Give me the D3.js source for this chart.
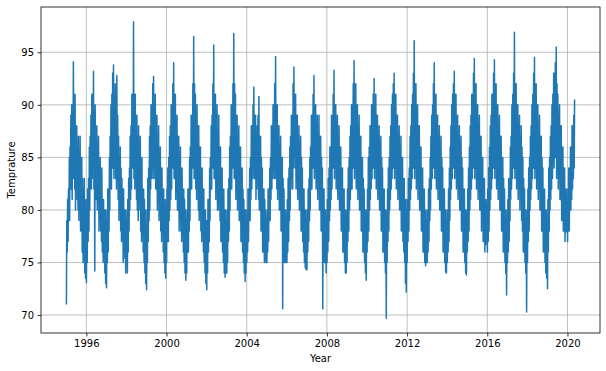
<!DOCTYPE html>
<html><head><meta charset="utf-8">
<script src="https://cdn.jsdelivr.net/npm/d3@7"></script>
<style>body{margin:0;background:#fff}svg{display:block}text{font-family:"DejaVu Sans",sans-serif}</style>
</head><body><svg id="c" width="606" height="371"></svg>
<script>
const startYear = 1995;
// half-monthly high readings (24 per row = one year), 1995 .. early May 2020
const highs = [
 79,81, 82,85, 86,89, 90,88, 94.1,90, 91,87, 88,86, 87,85, 87,84, 85,83, 82,83, 80,81,
 79,82, 83,86, 87,89, 91,89, 93.2,89, 90,87, 88,86, 87,84, 85,82, 84,81, 81,80, 80,79,
 80,82, 82,85, 87,90, 91,93, 93.8,91, 92,90, 92.8,89, 87,85, 86,84, 83,82, 82,80, 80,79,
 80,81, 83,84, 87,88, 91,90, 97.9,91, 91,88, 89,87, 88,85, 87,84, 85,82, 82,81, 80,78,
 80,83, 84,87, 88,90, 90,92, 92.7,90, 91,88, 89,86, 88,85, 86,84, 84,82, 82,80, 81,79,
 82,84, 85,87, 88,90, 90,92, 94,91, 91,88, 89,87, 87,85, 86,83, 84,82, 82,81, 80,79,
 80,82, 82,85, 86,89, 89,92, 96.5,92, 91,89, 90,88, 88,86, 86,84, 84,82, 82,80, 80,79,
 79,81, 81,84, 85,88, 89,92, 95.7,91, 91,89, 90,87, 89,86, 86,84, 84,82, 82,80, 80,79,
 80,82, 83,86, 87,90, 90,92, 96.8,92, 91,89, 89,87, 88,86, 86,84, 84,82, 81,80, 80,79,
 80,82, 82,84, 85,88, 88,90, 91.7,89, 89,87, 88,89, 90.8,87, 87,85, 84,82, 82,81, 80,79,
 80,82, 82,84, 85,88, 88,90, 90,92, 94.6,90, 90,88, 88,86, 87,85, 85,83, 82,80, 80,79,
 81,83, 84,86, 87,89, 89,92, 93.6,91, 91,89, 89,87, 88,86, 87,85, 84,82, 82,80, 80,79,
 80,82, 83,85, 86,89, 89,91, 92.8,90, 90,88, 89,87, 89,87, 87,85, 84,82, 82,80, 80,79,
 81,83, 84,86, 86,89, 89,91, 93.3,90, 90,88, 89,87, 88,86, 86,84, 84,82, 82,80, 80,79,
 82,84, 85,87, 88,90, 90,92, 94.2,92, 92,89, 90,88, 89,87, 87,85, 85,83, 82,80, 80,79,
 82,85, 86,88, 88,90, 90,91, 92.5,90, 91,89, 89,87, 88,86, 87,85, 84,82, 82,80, 80,79,
 82,84, 85,87, 88,90, 91,92, 93,91, 91,89, 89,87, 88,86, 87,85, 85,83, 83,81, 81,80,
 81,83, 84,87, 88,90, 91,93, 96.1,92, 92,89, 90,88, 88,86, 86,84, 84,82, 82,80, 80,79,
 80,82, 83,85, 87,89, 90,92, 94,91, 91,89, 89,87, 88,86, 87,85, 84,82, 82,80, 80,79,
 80,82, 84,86, 88,90, 91,92, 93.2,91, 91,89, 89,87, 88,86, 87,85, 84,82, 82,80, 80,79,
 82,84, 86,88, 89,91, 91,93, 94.4,92, 92,90, 90,88, 89,87, 87,85, 85,83, 83,81, 81,80,
 82,84, 86,88, 89,91, 91,93, 94.3,92, 92,90, 90,88, 89,87, 87,85, 85,83, 82,80, 80,79,
 81,83, 83,86, 87,90, 91,93, 96.9,92, 92,90, 90,88, 89,87, 88,86, 85,83, 82,80, 80,79,
 82,84, 85,87, 88,90, 91,93, 94.5,92, 92,90, 90,88, 89,87, 87,85, 84,82, 82,80, 80,79,
 81,84, 85,87, 88,90, 91,93, 93,94, 95.5,92, 91,89, 90,88, 88,86, 86,84, 84,82, 82,81,
 82,84, 84,86, 86,88, 88,89, 90.5
];
// half-monthly low readings, same layout
const lows = [
 71,76, 77,79, 79,82, 82,81, 84,83, 82,80, 82,81, 80,79, 80,78, 78,76, 75,76, 74,73.5,
 73.1,75, 77,78, 80,82, 82,83, 84,82, 74.2,81, 81,80, 81,78, 79,78, 77,76, 75,76, 74,73,
 72.6,75, 76,78, 80,82, 82,84, 84,83, 84,83, 82,83, 81,79, 80,78, 77,78, 75,76, 75.4,74,
 75,74, 76,78, 80,81, 82,84, 84,83, 82,83, 81,80, 79,81, 80,78, 77,78, 76,75, 74,73,
 72.4,75, 77,79, 80,82, 83,84, 83,85, 83,82, 82,80, 81,79, 80,78, 77,78, 76,75, 74,73.5,
 75,77, 77,79, 80,81, 82,84, 84,83, 83,81, 82,80, 80,78, 79,78, 77,78, 76,75, 74,73.3,
 74,76, 76,78, 79,82, 82,84, 84,83, 83,82, 81,82, 80,79, 80,78, 77,78, 76,75, 74,73,
 72.4,74, 76,77, 79,82, 82,84, 84,83, 83,81, 82,80, 80,81, 79,77, 77,76, 75,74, 73.6,74,
 74,75, 77,78, 80,82, 82,84, 84,83, 83,81, 82,80, 81,79, 79,77, 77,76, 75,74, 73.2,74,
 75,76, 77,79, 79,81, 82,83, 84,83, 83,81, 82,83, 81,80, 80,78, 78,76, 76,75, 75.4,75,
 75,76, 77,79, 79,81, 82,83, 84,83, 83,84, 82,81, 82,80, 80,78, 78,70.6, 77,75, 75,75,
 75,76, 77,79, 80,82, 83,82, 84,85, 84,82, 83,81, 82,80, 80,78, 78,77, 76,75, 74.5,74.3,
 74.3,76, 77,79, 80,82, 82,84, 84,83, 84,82, 83,81, 82,80, 80,78, 78,70.6, 76,75, 75,74,
 75,76, 77,79, 80,81, 82,84, 84,83, 84,82, 83,81, 82,80, 80,78, 78,76, 76,75, 74,74,
 75,77, 78,80, 81,82, 82,84, 84,83, 84,82, 83,81, 82,80, 80,78, 78,76, 76,75, 74,73.3,
 76,77, 78,80, 81,82, 83,84, 84,83, 84,82, 83,81, 82,80, 80,78, 78,76, 76,75, 74,69.7,
 75,77, 78,80, 81,82, 83,84, 84,83, 84,82, 83,81, 82,80, 80,78, 78,77, 76,75, 73,72.2,
 75,77, 78,80, 81,82, 83,84, 84,83, 84,82, 83,81, 82,80, 80,78, 78,76, 76,75, 74.7,75,
 75,76, 77,79, 80,82, 83,84, 84,83, 84,82, 83,81, 82,80, 80,78, 78,76, 76,75, 74.1,74,
 75,76, 77,79, 81,82, 83,84, 84,83, 84,82, 83,81, 82,80, 80,78, 78,76, 76,75, 74,73.8,
 76,77, 78,80, 81,82, 83,84, 84,83, 84,82, 83,81, 82,80, 80,78, 79,77, 77,76, 76.7,77,
 76,77, 78,80, 81,82, 83,84, 84,83, 84,82, 83,81, 82,80, 80,78, 78,76, 76,75, 74,71.9,
 75,76, 77,79, 81,82, 83,84, 84,83, 84,82, 83,81, 82,80, 81,79, 78,76, 76,75, 74,70.3,
 75,77, 78,80, 81,82, 83,84, 84,83, 84,82, 83,81, 82,80, 80,78, 78,76, 76,75, 74,73.5,
 72.5,76, 78,80, 81,82, 83,85, 84,85, 85,83, 84,82, 83,81, 81,79, 79,78, 78,77, 77.9,78,
 77,78, 78,80, 80,81, 82,83, 84
];
const yTicks = [70, 75, 80, 85, 90, 95];
const xTickYears = [1996, 2000, 2004, 2008, 2012, 2016, 2020];

const points = [];
lows.forEach((lo, k) => {
  const yr = startYear + Math.floor(k / 24), h = k % 24;
  const mo = Math.floor(h / 2), d0 = (h % 2) ? 16 : 1;
  points.push({date: new Date(yr, mo, d0 + 2), v: lo});
  points.push({date: new Date(yr, mo, d0 + 9), v: highs[k]});
});

const W = 606, H = 371;
const m = {left: 41, right: 6, top: 7, bottom: 38};
const svg = d3.select("#c");

const xExt = d3.extent(points, d => d.date);
const xPad = (xExt[1] - xExt[0]) * 0.05;
const x = d3.scaleTime()
  .domain([new Date(+xExt[0] - xPad), new Date(+xExt[1] + xPad)])
  .range([m.left, W - m.right]);
const yExt = d3.extent(points, d => d.v);
const yPad = (yExt[1] - yExt[0]) * 0.05;
const y = d3.scaleLinear()
  .domain([yExt[0] - yPad, yExt[1] + yPad])
  .range([H - m.bottom, m.top]);

const xTickDates = xTickYears.map(yv => new Date(yv, 0, 1));

// grid
const g = svg.append("g");
g.selectAll(".gx").data(xTickDates).join("line")
  .attr("x1", d => x(d)).attr("x2", d => x(d))
  .attr("y1", m.top).attr("y2", H - m.bottom)
  .attr("stroke", "#b0b0b0").attr("stroke-width", 0.8);
g.selectAll(".gy").data(yTicks).join("line")
  .attr("x1", m.left).attr("x2", W - m.right)
  .attr("y1", d => y(d)).attr("y2", d => y(d))
  .attr("stroke", "#b0b0b0").attr("stroke-width", 0.8);

// line
const line = d3.line().x(d => x(d.date)).y(d => y(d.v));
svg.append("path").datum(points)
  .attr("d", line).attr("fill", "none")
  .attr("stroke", "#1f77b4").attr("stroke-width", 1.5)
  .attr("stroke-linejoin", "round");

// axes
const xAxis = d3.axisBottom(x).tickValues(xTickDates).tickFormat(d3.timeFormat("%Y"))
  .tickSizeInner(3.5).tickSizeOuter(0).tickPadding(3.5);
const yAxis = d3.axisLeft(y).tickValues(yTicks).tickFormat(d3.format("d"))
  .tickSizeInner(3.5).tickSizeOuter(0).tickPadding(3.5);
const ax = svg.append("g").attr("transform", `translate(0,${H - m.bottom})`).call(xAxis);
const ay = svg.append("g").attr("transform", `translate(${m.left},0)`).call(yAxis);
[ax, ay].forEach(a => {
  a.select(".domain").remove();
  a.selectAll("line").attr("stroke", "#000").attr("stroke-width", 0.8);
  a.selectAll("text").attr("font-size", 10).attr("fill", "#000")
    .attr("font-family", "DejaVu Sans");
});

// frame
svg.append("rect").attr("x", m.left).attr("y", m.top)
  .attr("width", W - m.left - m.right).attr("height", H - m.top - m.bottom)
  .attr("fill", "none").attr("stroke", "#000").attr("stroke-width", 0.8);

// labels
svg.append("text").attr("x", (m.left + W - m.right) / 2).attr("y", 362)
  .attr("text-anchor", "middle").attr("font-size", 10).text("Year");
svg.append("text")
  .attr("transform", `translate(15,${(m.top + H - m.bottom) / 2}) rotate(-90)`)
  .attr("text-anchor", "middle").attr("font-size", 10).text("Temprature");
</script></body></html>
